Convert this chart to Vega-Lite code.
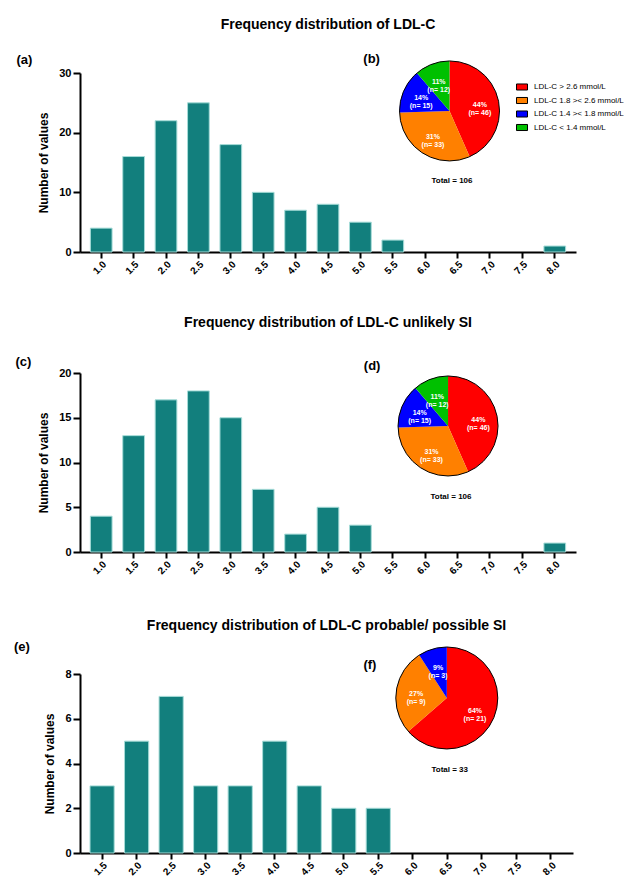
{
  "$schema": "https://vega.github.io/schema/vega-lite/v6.json",
  "padding": {"left": 13, "top": 17, "right": 0, "bottom": 0},
  "spacing": 42,
  "datasets": {
    "h1": [
      {"bin": "1.0", "count": 4}, {"bin": "1.5", "count": 16}, {"bin": "2.0", "count": 22},
      {"bin": "2.5", "count": 25}, {"bin": "3.0", "count": 18}, {"bin": "3.5", "count": 10},
      {"bin": "4.0", "count": 7}, {"bin": "4.5", "count": 8}, {"bin": "5.0", "count": 5},
      {"bin": "5.5", "count": 2}, {"bin": "6.0", "count": 0}, {"bin": "6.5", "count": 0},
      {"bin": "7.0", "count": 0}, {"bin": "7.5", "count": 0}, {"bin": "8.0", "count": 1}
    ],
    "h2": [
      {"bin": "1.0", "count": 4}, {"bin": "1.5", "count": 13}, {"bin": "2.0", "count": 17},
      {"bin": "2.5", "count": 18}, {"bin": "3.0", "count": 15}, {"bin": "3.5", "count": 7},
      {"bin": "4.0", "count": 2}, {"bin": "4.5", "count": 5}, {"bin": "5.0", "count": 3},
      {"bin": "5.5", "count": 0}, {"bin": "6.0", "count": 0}, {"bin": "6.5", "count": 0},
      {"bin": "7.0", "count": 0}, {"bin": "7.5", "count": 0}, {"bin": "8.0", "count": 1}
    ],
    "h3": [
      {"bin": "1.5", "count": 3}, {"bin": "2.0", "count": 5}, {"bin": "2.5", "count": 7},
      {"bin": "3.0", "count": 3}, {"bin": "3.5", "count": 3}, {"bin": "4.0", "count": 5},
      {"bin": "4.5", "count": 3}, {"bin": "5.0", "count": 2}, {"bin": "5.5", "count": 2},
      {"bin": "6.0", "count": 0}, {"bin": "6.5", "count": 0}, {"bin": "7.0", "count": 0},
      {"bin": "7.5", "count": 0}, {"bin": "8.0", "count": 0}
    ],
    "pieAll": [
      {"idx": 1, "cat": "LDL-C > 2.6 mmol/L", "n": 46, "label": "44%\n(n= 46)"},
      {"idx": 2, "cat": "LDL-C 1.8 >< 2.6 mmol/L", "n": 33, "label": "31%\n(n= 33)"},
      {"idx": 3, "cat": "LDL-C 1.4 >< 1.8  mmol/L", "n": 15, "label": "14%\n(n= 15)"},
      {"idx": 4, "cat": "LDL-C < 1.4 mmol/L", "n": 12, "label": "11%\n(n= 12)"}
    ],
    "pieSI": [
      {"idx": 1, "cat": "LDL-C > 2.6 mmol/L", "n": 21, "label": "64%\n(n= 21)"},
      {"idx": 2, "cat": "LDL-C 1.8 >< 2.6 mmol/L", "n": 9, "label": "27%\n(n= 9)"},
      {"idx": 3, "cat": "LDL-C 1.4 >< 1.8  mmol/L", "n": 3, "label": "9%\n(n= 3)"}
    ]
  },
  "vconcat": [
    {
      "spacing": 40,
      "vconcat": [
        {
          "title": {"text": "Frequency distribution of LDL-C", "offset": 21},
          "width": 496,
          "height": 179,
          "resolve": {"scale": {"x": "independent", "y": "independent"}},
          "layer": [
            {
              "data": {"name": "h1"},
              "mark": {"type": "bar", "color": "#127f7d", "stroke": "#a6dcd8"},
              "encoding": {
                "x": {"field": "bin", "type": "ordinal", "sort": null, "scale": {"paddingInner": 0.33, "paddingOuter": 0.32}, "axis": {"title": null}},
                "y": {"field": "count", "type": "quantitative", "scale": {"domain": [0, 30]}, "axis": {"values": [0, 10, 20, 30], "title": "Number of values"}},
                "strokeWidth": {"condition": {"test": "datum.count > 0", "value": 1}, "value": 0}
              }
            },
            {
              "layer": [
                {
                  "data": {"name": "pieAll"},
                  "mark": {"type": "arc", "radius": 50},
                  "encoding": {
                    "x": {"datum": 0.745, "type": "quantitative", "scale": {"domain": [0, 1]}, "axis": null},
                    "y": {"datum": 0.788, "type": "quantitative", "scale": {"domain": [0, 1]}, "axis": null},
                    "theta": {"field": "n", "type": "quantitative", "stack": true},
                    "order": {"field": "idx", "type": "quantitative"},
                    "color": {"field": "cat", "type": "nominal",
                      "scale": {"domain": ["LDL-C > 2.6 mmol/L", "LDL-C 1.8 >< 2.6 mmol/L", "LDL-C 1.4 >< 1.8  mmol/L", "LDL-C < 1.4 mmol/L"], "range": ["#ff0000", "#ff8000", "#0000ff", "#00c000"]},
                      "legend": {"title": null, "orient": "none", "legendX": 436, "legendY": 8}}
                  }
                },
                {
                  "data": {"name": "pieAll"},
                  "mark": {"type": "text", "radius": 31, "color": "white", "fontWeight": "bold", "fontSize": 7, "lineBreak": "\n", "lineHeight": 8},
                  "encoding": {
                    "x": {"datum": 0.745, "type": "quantitative", "scale": {"domain": [0, 1]}, "axis": null},
                    "y": {"datum": 0.788, "type": "quantitative", "scale": {"domain": [0, 1]}, "axis": null},
                    "theta": {"field": "n", "type": "quantitative", "stack": true},
                    "order": {"field": "idx", "type": "quantitative"},
                    "text": {"field": "label"}
                  }
                },
                {
                  "data": {"values": [{"outline": "pie"}]},
                  "mark": {"type": "point", "shape": "circle", "size": 10000, "filled": false, "stroke": "black", "strokeWidth": 1, "opacity": 1},
                  "encoding": {
                    "x": {"datum": 0.745, "type": "quantitative", "scale": {"domain": [0, 1]}, "axis": null},
                    "y": {"datum": 0.788, "type": "quantitative", "scale": {"domain": [0, 1]}, "axis": null}
                  }
                },
                {
                  "data": {"values": [{"t": "Total = 106"}]},
                  "mark": {"type": "text", "fontWeight": "bold", "fontSize": 8},
                  "encoding": {
                    "x": {"datum": 0.75, "type": "quantitative", "scale": {"domain": [0, 1]}, "axis": null},
                    "y": {"datum": 0.394, "type": "quantitative", "scale": {"domain": [0, 1]}, "axis": null},
                    "text": {"field": "t"}
                  }
                },
                {
                  "data": {"values": [{"t": "(b)"}]},
                  "mark": {"type": "text", "fontWeight": "bold", "fontSize": 13},
                  "encoding": {
                    "x": {"datum": 0.588, "type": "quantitative", "scale": {"domain": [0, 1]}, "axis": null},
                    "y": {"datum": 1.081, "type": "quantitative", "scale": {"domain": [0, 1]}, "axis": null},
                    "text": {"field": "t"}
                  }
                },
                {
                  "data": {"values": [{"t": "(a)"}]},
                  "mark": {"type": "text", "fontWeight": "bold", "fontSize": 13},
                  "encoding": {
                    "x": {"datum": -0.112, "type": "quantitative", "scale": {"domain": [0, 1]}, "axis": null},
                    "y": {"datum": 1.075, "type": "quantitative", "scale": {"domain": [0, 1]}, "axis": null},
                    "text": {"field": "t"}
                  }
                }
              ]
            }
          ]
        },
        {
          "title": {"text": "Frequency distribution of LDL-C unlikely SI", "offset": 26},
          "width": 496,
          "height": 179,
          "resolve": {"scale": {"x": "independent", "y": "independent"}},
          "layer": [
            {
              "data": {"name": "h2"},
              "mark": {"type": "bar", "color": "#127f7d", "stroke": "#a6dcd8"},
              "encoding": {
                "x": {"field": "bin", "type": "ordinal", "sort": null, "scale": {"paddingInner": 0.33, "paddingOuter": 0.32}, "axis": {"title": null}},
                "y": {"field": "count", "type": "quantitative", "scale": {"domain": [0, 20]}, "axis": {"values": [0, 5, 10, 15, 20], "title": "Number of values"}},
                "strokeWidth": {"condition": {"test": "datum.count > 0", "value": 1}, "value": 0}
              }
            },
            {
              "layer": [
                {
                  "data": {"name": "pieAll"},
                  "mark": {"type": "arc", "radius": 50},
                  "encoding": {
                    "x": {"datum": 0.742, "type": "quantitative", "scale": {"domain": [0, 1]}, "axis": null},
                    "y": {"datum": 0.704, "type": "quantitative", "scale": {"domain": [0, 1]}, "axis": null},
                    "theta": {"field": "n", "type": "quantitative", "stack": true},
                    "order": {"field": "idx", "type": "quantitative"},
                    "color": {"field": "cat", "type": "nominal",
                      "scale": {"domain": ["LDL-C > 2.6 mmol/L", "LDL-C 1.8 >< 2.6 mmol/L", "LDL-C 1.4 >< 1.8  mmol/L", "LDL-C < 1.4 mmol/L"], "range": ["#ff0000", "#ff8000", "#0000ff", "#00c000"]},
                      "legend": {"title": null, "orient": "none", "legendX": 435, "legendY": 27}}
                  }
                },
                {
                  "data": {"name": "pieAll"},
                  "mark": {"type": "text", "radius": 31, "color": "white", "fontWeight": "bold", "fontSize": 7, "lineBreak": "\n", "lineHeight": 8},
                  "encoding": {
                    "x": {"datum": 0.742, "type": "quantitative", "scale": {"domain": [0, 1]}, "axis": null},
                    "y": {"datum": 0.704, "type": "quantitative", "scale": {"domain": [0, 1]}, "axis": null},
                    "theta": {"field": "n", "type": "quantitative", "stack": true},
                    "order": {"field": "idx", "type": "quantitative"},
                    "text": {"field": "label"}
                  }
                },
                {
                  "data": {"values": [{"outline": "pie"}]},
                  "mark": {"type": "point", "shape": "circle", "size": 10000, "filled": false, "stroke": "black", "strokeWidth": 1, "opacity": 1},
                  "encoding": {
                    "x": {"datum": 0.742, "type": "quantitative", "scale": {"domain": [0, 1]}, "axis": null},
                    "y": {"datum": 0.704, "type": "quantitative", "scale": {"domain": [0, 1]}, "axis": null}
                  }
                },
                {
                  "data": {"values": [{"t": "Total = 106"}]},
                  "mark": {"type": "text", "fontWeight": "bold", "fontSize": 8},
                  "encoding": {
                    "x": {"datum": 0.748, "type": "quantitative", "scale": {"domain": [0, 1]}, "axis": null},
                    "y": {"datum": 0.307, "type": "quantitative", "scale": {"domain": [0, 1]}, "axis": null},
                    "text": {"field": "t"}
                  }
                },
                {
                  "data": {"values": [{"t": "(d)"}]},
                  "mark": {"type": "text", "fontWeight": "bold", "fontSize": 13},
                  "encoding": {
                    "x": {"datum": 0.589, "type": "quantitative", "scale": {"domain": [0, 1]}, "axis": null},
                    "y": {"datum": 1.039, "type": "quantitative", "scale": {"domain": [0, 1]}, "axis": null},
                    "text": {"field": "t"}
                  }
                },
                {
                  "data": {"values": [{"t": "(c)"}]},
                  "mark": {"type": "text", "fontWeight": "bold", "fontSize": 13},
                  "encoding": {
                    "x": {"datum": -0.114, "type": "quantitative", "scale": {"domain": [0, 1]}, "axis": null},
                    "y": {"datum": 1.061, "type": "quantitative", "scale": {"domain": [0, 1]}, "axis": null},
                    "text": {"field": "t"}
                  }
                }
              ]
            }
          ]
        }
      ]
    },
    {
      "title": {"text": "Frequency distribution of LDL-C probable/ possible SI", "offset": 8},
      "width": 493,
      "height": 179,
      "resolve": {"scale": {"x": "independent", "y": "independent"}},
      "layer": [
        {
          "data": {"name": "h3"},
          "mark": {"type": "bar", "color": "#127f7d", "stroke": "#a6dcd8"},
          "encoding": {
            "x": {"field": "bin", "type": "ordinal", "sort": null, "scale": {"paddingInner": 0.3, "paddingOuter": 0.29}, "axis": {"title": null}},
            "y": {"field": "count", "type": "quantitative", "scale": {"domain": [0, 8]}, "axis": {"values": [0, 2, 4, 6, 8], "title": "Number of values"}},
            "strokeWidth": {"condition": {"test": "datum.count > 0", "value": 1}, "value": 0}
          }
        },
        {
          "layer": [
            {
              "data": {"name": "pieSI"},
              "mark": {"type": "arc", "radius": 51},
              "encoding": {
                "x": {"datum": 0.744, "type": "quantitative", "scale": {"domain": [0, 1]}, "axis": null},
                "y": {"datum": 0.866, "type": "quantitative", "scale": {"domain": [0, 1]}, "axis": null},
                "theta": {"field": "n", "type": "quantitative", "stack": true},
                "order": {"field": "idx", "type": "quantitative"},
                "color": {"field": "cat", "type": "nominal",
                  "scale": {"domain": ["LDL-C > 2.6 mmol/L", "LDL-C 1.8 >< 2.6 mmol/L", "LDL-C 1.4 >< 1.8  mmol/L"], "range": ["#ff0000", "#ff8000", "#0000ff"]},
                  "legend": {"title": null, "orient": "none", "legendX": 434, "legendY": 4}}
              }
            },
            {
              "data": {"name": "pieSI"},
              "mark": {"type": "text", "radius": 31, "color": "white", "fontWeight": "bold", "fontSize": 7, "lineBreak": "\n", "lineHeight": 8},
              "encoding": {
                "x": {"datum": 0.744, "type": "quantitative", "scale": {"domain": [0, 1]}, "axis": null},
                "y": {"datum": 0.866, "type": "quantitative", "scale": {"domain": [0, 1]}, "axis": null},
                "theta": {"field": "n", "type": "quantitative", "stack": true},
                "order": {"field": "idx", "type": "quantitative"},
                "text": {"field": "label"}
              }
            },
            {
              "data": {"values": [{"outline": "pie"}]},
              "mark": {"type": "point", "shape": "circle", "size": 10404, "filled": false, "stroke": "black", "strokeWidth": 1, "opacity": 1},
              "encoding": {
                "x": {"datum": 0.744, "type": "quantitative", "scale": {"domain": [0, 1]}, "axis": null},
                "y": {"datum": 0.866, "type": "quantitative", "scale": {"domain": [0, 1]}, "axis": null}
              }
            },
            {
              "data": {"values": [{"t": "Total = 33"}]},
              "mark": {"type": "text", "fontWeight": "bold", "fontSize": 8},
              "encoding": {
                "x": {"datum": 0.75, "type": "quantitative", "scale": {"domain": [0, 1]}, "axis": null},
                "y": {"datum": 0.464, "type": "quantitative", "scale": {"domain": [0, 1]}, "axis": null},
                "text": {"field": "t"}
              }
            },
            {
              "data": {"values": [{"t": "(f)"}]},
              "mark": {"type": "text", "fontWeight": "bold", "fontSize": 13},
              "encoding": {
                "x": {"datum": 0.588, "type": "quantitative", "scale": {"domain": [0, 1]}, "axis": null},
                "y": {"datum": 1.05, "type": "quantitative", "scale": {"domain": [0, 1]}, "axis": null},
                "text": {"field": "t"}
              }
            },
            {
              "data": {"values": [{"t": "(e)"}]},
              "mark": {"type": "text", "fontWeight": "bold", "fontSize": 13},
              "encoding": {
                "x": {"datum": -0.118, "type": "quantitative", "scale": {"domain": [0, 1]}, "axis": null},
                "y": {"datum": 1.151, "type": "quantitative", "scale": {"domain": [0, 1]}, "axis": null},
                "text": {"field": "t"}
              }
            }
          ]
        }
      ]
    }
  ],
  "config": {
    "font": "Liberation Sans",
    "view": {"stroke": null},
    "axis": {
      "grid": false,
      "domainColor": "black", "domainWidth": 2,
      "tickColor": "black", "tickWidth": 2, "tickSize": 7,
      "labelFont": "Liberation Sans", "labelFontWeight": "bold", "labelFontSize": 11, "labelColor": "black", "labelPadding": 2,
      "titleFont": "Liberation Sans", "titleFontWeight": "bold", "titleFontSize": 12, "titleColor": "black", "titlePadding": 8
    },
    "axisX": {"labelAngle": -45, "labelFontSize": 10, "labelPadding": 1, "tickSize": 6},
    "title": {"font": "Liberation Sans", "fontSize": 14, "fontWeight": "bold", "color": "black", "anchor": "middle", "frame": "group"},
    "legend": {
      "labelFont": "Liberation Sans", "labelFontSize": 8, "labelColor": "black", "labelLimit": 200,
      "symbolType": "M-1,-0.55H1V0.55H-1Z", "symbolSize": 121, "symbolStrokeColor": "black", "symbolStrokeWidth": 1, "symbolOpacity": 1,
      "rowPadding": 1.5, "labelOffset": 6
    }
  }
}
